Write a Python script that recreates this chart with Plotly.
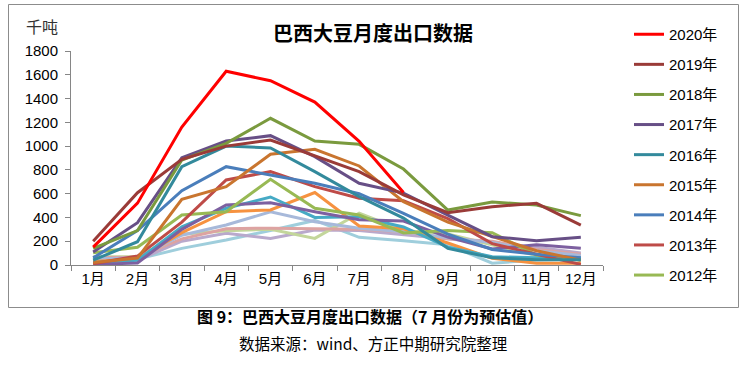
import plotly.graph_objects as go

months = ["1月", "2月", "3月", "4月", "5月", "6月", "7月", "8月", "9月", "10月", "11月", "12月"]
years = ["2020年", "2019年", "2018年", "2017年", "2016年", "2015年", "2014年", "2013年", "2012年",
         "2011年", "2010年", "2009年", "2008年", "2007年", "2006年", "2005年", "2004年"]

v2020 = [150, 520, 1160, 1630, 1550, 1370, 1040, 610, None, None, None, None]
v2019 = [200, 608, 889, 1000, 1051, 915, 785, 590, 440, 490, 519, 336]
v2018 = [140, 289, 883, 1023, 1234, 1043, 1015, 807, 462, 530, 505, 415]
v2017 = [110, 356, 903, 1043, 1088, 911, 687, 605, 420, 238, 205, 233]
v2016 = [40, 196, 827, 1000, 985, 785, 575, 395, 140, 60, 45, 45]
v2015 = [20, 58, 553, 659, 931, 973, 833, 533, 360, 240, 120, 40]
v2014 = [60, 290, 625, 827, 757, 687, 600, 435, 260, 130, 90, 60]
v2013 = [10, 75, 360, 715, 785, 659, 561, 540, 390, 180, 90, 5]
v2012 = [104, 149, 420, 448, 721, 477, 420, 270, 290, 272, 84, 42]
v2011 = [5, 17, 300, 505, 524, 448, 380, 370, 235, 135, 170, 140]
v2010 = [20, 40, 322, 477, 572, 400, 405, 320, 150, 70, 60, 60]
v2009 = [30, 50, 272, 448, 463, 610, 328, 305, 185, 56, 15, 15]
v2008 = [50, 60, 250, 336, 448, 364, 310, 280, 230, 190, 120, 80]
v2007 = [60, 65, 220, 305, 310, 305, 300, 280, 220, 200, 130, 90]
v2006 = [70, 70, 258, 289, 300, 224, 435, 290, 260, 170, 80, 50]
v2005 = [40, 40, 200, 266, 224, 294, 290, 255, 220, 180, 150, 100]
v2004 = [30, 50, 140, 210, 290, 375, 233, 205, 170, 15, 42, 50]

series = [v2020, v2019, v2018, v2017, v2016, v2015, v2014, v2013, v2012,
          v2011, v2010, v2009, v2008, v2007, v2006, v2005, v2004]
colors = ["#FF0000", "#9A3B38", "#7A9A3E", "#674F86", "#338A9C", "#C9752F", "#4A7EBB", "#BE4B48", "#98B954",
          "#7D60A0", "#46AAC5", "#F69240", "#A7B9DA", "#DDA3A2", "#C3D69B", "#B9A9CC", "#9FCEDC"]
legend_count = 9

yticks = [0, 200, 400, 600, 800, 1000, 1200, 1400, 1600, 1800]

FONT = "Liberation Sans, Arial, Noto Sans CJK SC, sans-serif"
CJK = "Noto Sans CJK SC, sans-serif"

fig = go.Figure()
# draw older series first so that newer ones sit on top
for i in reversed(range(len(series))):
    fig.add_trace(go.Scatter(
        x=months, y=series[i], name=years[i], mode="lines",
        line=dict(color=colors[i], width=3),
        legendgroup=years[i], legendrank=i + 1,
        showlegend=i < legend_count, connectgaps=False,
        hoverinfo="skip",
    ))

L, R, T, B = 71, 603, 51, 265
W, H = 744, 366

def px_x(px):
    return (px - L) / (R - L)

def px_y(py):
    return (B - py) / (B - T)

fig.update_layout(
    width=W, height=H,
    margin=dict(l=L, r=W - R, t=T, b=H - B, pad=0, autoexpand=False),
    paper_bgcolor="white", plot_bgcolor="white",
    showlegend=True,
    legend=dict(
        x=px_x(629), xanchor="left",
        y=px_y(18), yanchor="top",
        traceorder="grouped", tracegroupgap=7.6,
        maxheight=H,
        font=dict(family=FONT, size=15, color="#000000"),
        bgcolor="rgba(0,0,0,0)", borderwidth=0,
    ),
    xaxis=dict(
        type="category", categoryorder="array", categoryarray=months,
        range=[-0.5, 11.5], showgrid=False, zeroline=False,
        showline=True, linecolor="#868686", linewidth=1,
        ticks="outside", tickson="boundaries", ticklen=5, tickcolor="#868686",
        tickfont=dict(family=FONT, size=15, color="#000000"),
        fixedrange=True, automargin=False,
    ),
    yaxis=dict(
        range=[0, 1800], tickvals=yticks, showgrid=False, zeroline=False,
        showline=True, linecolor="#868686", linewidth=1,
        ticks="outside", ticklen=5, tickcolor="#868686",
        tickfont=dict(family=FONT, size=15, color="#000000"),
        ticklabelstandoff=4,
        fixedrange=True, automargin=False,
    ),
    shapes=[
        dict(type="rect", xref="paper", yref="paper",
             x0=px_x(8.5), x1=px_x(738.5), y0=px_y(307.5), y1=px_y(4.5),
             line=dict(color="#8C8C8C", width=1), fillcolor="rgba(0,0,0,0)", layer="below"),
    ],
    annotations=[
        dict(text="<b>巴西大豆月度出口数据</b>", xref="paper", yref="paper",
             x=px_x(373), y=px_y(32), xanchor="center", yanchor="middle", showarrow=False,
             font=dict(family=CJK, size=20, color="#000000")),
        dict(text="千吨", xref="paper", yref="paper",
             x=px_x(42), y=px_y(26), xanchor="center", yanchor="middle", showarrow=False,
             font=dict(family=CJK, size=16, color="#333333")),
        dict(text="<b>图 9：巴西大豆月度出口数据（7 月份为预估值）</b>", xref="paper", yref="paper",
             x=px_x(370), y=px_y(316), xanchor="center", yanchor="middle", showarrow=False,
             font=dict(family=CJK, size=16, color="#000000")),
        dict(text="数据来源：wind、方正中期研究院整理", xref="paper", yref="paper",
             x=px_x(373), y=px_y(343), xanchor="center", yanchor="middle", showarrow=False,
             font=dict(family=CJK, size=15.5, color="#000000")),
    ],
)

fig.write_html("out.html", config={"displayModeBar": False},
               post_script="document.body.style.margin='0';document.body.style.padding='0';")
